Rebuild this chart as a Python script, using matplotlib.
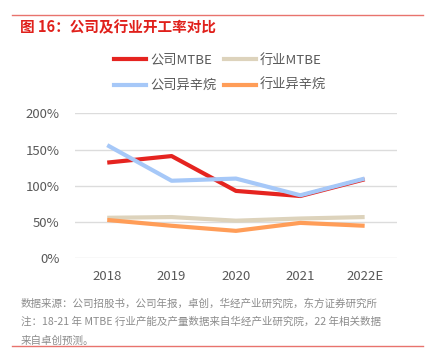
import matplotlib.pyplot as plt
from matplotlib.lines import Line2D

plt.rcParams['font.family'] = ['Noto Sans CJK SC', 'DejaVu Sans']

# data (%)
years = ['2018', '2019', '2020', '2021', '2022E']
company_mtbe = [132, 141, 93, 86, 109]
industry_mtbe = [56, 57, 52, 55, 57]
company_iso = [156, 107, 110, 87, 110]
industry_iso = [53, 45, 38, 49, 45]

c_red = '#E52420'
c_beige = '#DDD3BC'
c_blue = '#A6C8F8'
c_orange = '#FF9D58'
grey = '#595959'

fig = plt.figure(figsize=(4.29, 3.56), dpi=100)
ax = fig.add_axes([0.175, 0.274, 0.75, 0.408])

x = range(len(years))
ax.plot(x, industry_mtbe, color=c_beige, lw=3, solid_capstyle='butt', zorder=3)
ax.plot(x, industry_iso, color=c_orange, lw=3, solid_capstyle='butt', zorder=3)
ax.plot(x, company_mtbe, color=c_red, lw=3, solid_capstyle='butt', zorder=4)
ax.plot(x, company_iso, color=c_blue, lw=3, solid_capstyle='butt', zorder=5)

ax.set_xlim(-0.5, 4.5)
ax.set_ylim(0, 200)
ax.set_yticks([0, 50, 100, 150, 200])
ax.set_yticklabels(['0%', '50%', '100%', '150%', '200%'])
ax.set_xticks(list(x))
ax.set_xticklabels(years)
ax.tick_params(length=0, labelsize=9.5, colors=grey, pad=8)
ax.tick_params(axis='y', pad=11)
ax.grid(axis='y', color='#DCDCDC', lw=1)
ax.set_axisbelow(True)
for s in ax.spines.values():
    s.set_visible(False)

# legend, two rows (filled column by column)
handles = [Line2D([], [], color=c, lw=3) for c in (c_red, c_blue, c_beige, c_orange)]
labels = ['公司MTBE', '公司异辛烷', '行业MTBE', '行业异辛烷']
fig.legend(handles, labels, ncol=2, loc='center', bbox_to_anchor=(0.513, 0.795),
           frameon=False, fontsize=9.5, handlelength=2.4, handletextpad=0.3,
           columnspacing=0.6, labelspacing=0.95, labelcolor=grey)

# header / footer
fig.add_artist(Line2D([0.028, 0.986], [0.958, 0.958], color='#E8736D', lw=1))
fig.text(0.047, 0.924, '图 16：公司及行业开工率对比', color='#E0201B', fontsize=10.5,
         fontweight='bold', va='center')
notes = ['数据来源：公司招股书，公司年报，卓创，华经产业研究院，东方证券研究所',
         '注：18-21 年 MTBE 行业产能及产量数据来自华经产业研究院，22 年相关数据',
         '来自卓创预测。']
for i, t in enumerate(notes):
    fig.text(0.049, 0.148 - i * 0.052, t, color='#8C8C8C', fontsize=7.6, va='center')
fig.add_artist(Line2D([0.028, 0.986], [0.028, 0.028], color='#E8736D', lw=1))

fig.savefig('out.png', dpi=100, facecolor='white')
